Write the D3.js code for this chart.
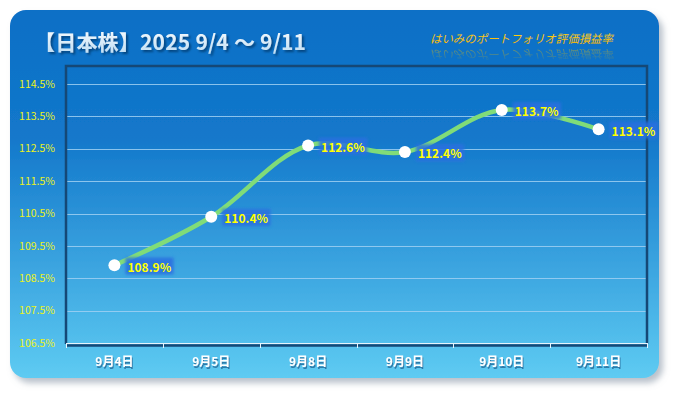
<!DOCTYPE html>
<meta charset="utf-8">
<script src="https://d3js.org/d3.v7.min.js"></script>
<style>
  body { margin: 0; background: #fff; }
  text { font-family: "Noto Sans CJK JP", "Liberation Sans", sans-serif; }
</style>
<div id="chart"></div>
<script>
// data
const dates = ["9月4日", "9月5日", "9月8日", "9月9日", "9月10日", "9月11日"];
const rates = [108.9, 110.4, 112.6, 112.4, 113.7, 113.1];
const yTicks = [106.5, 107.5, 108.5, 109.5, 110.5, 111.5, 112.5, 113.5, 114.5];
const title = "【日本株】2025 9/4 ～ 9/11";
const subtitle = "はいみのポートフォリオ評価損益率";

const W = 675, H = 393;
const plot = {left: 66, right: 647, top: 66, bottom: 344};

const svg = d3.select("#chart").append("svg")
  .attr("width", W).attr("height", H);

const defs = svg.append("defs");

// card gradient
const g1 = defs.append("linearGradient").attr("id", "bg")
  .attr("x1", 0).attr("y1", 0).attr("x2", 0).attr("y2", 1);
g1.append("stop").attr("offset", "0%").attr("stop-color", "#0b6fc6");
g1.append("stop").attr("offset", "35%").attr("stop-color", "#1378cb");
g1.append("stop").attr("offset", "100%").attr("stop-color", "#5ecbf2");

// title gradient
const g2 = defs.append("linearGradient").attr("id", "tg")
  .attr("x1", 0).attr("y1", 0).attr("x2", 0).attr("y2", 1);
g2.append("stop").attr("offset", "0%").attr("stop-color", "#ffffff");
g2.append("stop").attr("offset", "100%").attr("stop-color", "#b9dbf3");

// subtitle gradient
const g3 = defs.append("linearGradient").attr("id", "sg")
  .attr("x1", 0).attr("y1", 0).attr("x2", 0).attr("y2", 1);
g3.append("stop").attr("offset", "0%").attr("stop-color", "#ffd81f");
g3.append("stop").attr("offset", "100%").attr("stop-color", "#f5ae00");

// reflection fade (the copy is flipped, so the strong end is at the bottom)
const g4 = defs.append("linearGradient").attr("id", "rg")
  .attr("x1", 0).attr("y1", 0).attr("x2", 0).attr("y2", 1);
g4.append("stop").attr("offset", "0%").attr("stop-color", "#e8b400").attr("stop-opacity", 0);
g4.append("stop").attr("offset", "100%").attr("stop-color", "#f0c000").attr("stop-opacity", 0.8);

// card shadow
const f1 = defs.append("filter").attr("id", "shadow")
  .attr("x", "-5%").attr("y", "-5%").attr("width", "115%").attr("height", "120%");
f1.append("feGaussianBlur").attr("in", "SourceAlpha").attr("stdDeviation", 3);
f1.append("feOffset").attr("dx", 4).attr("dy", 5).attr("result", "b");
f1.append("feFlood").attr("flood-color", "#8a98a8").attr("flood-opacity", 0.6);
f1.append("feComposite").attr("in2", "b").attr("operator", "in");
const m1 = f1.append("feMerge");
m1.append("feMergeNode");
m1.append("feMergeNode").attr("in", "SourceGraphic");

// text shadow
const f2 = defs.append("filter").attr("id", "tshadow");
f2.append("feGaussianBlur").attr("in", "SourceAlpha").attr("stdDeviation", 1);
f2.append("feOffset").attr("dx", 1.5).attr("dy", 2).attr("result", "b");
f2.append("feFlood").attr("flood-color", "#06396b").attr("flood-opacity", 0.8);
f2.append("feComposite").attr("in2", "b").attr("operator", "in");
const m2 = f2.append("feMerge");
m2.append("feMergeNode");
m2.append("feMergeNode").attr("in", "SourceGraphic");

// small shadow for x labels
const f3 = defs.append("filter").attr("id", "xshadow");
f3.append("feOffset").attr("in", "SourceAlpha").attr("dx", 1).attr("dy", 1.5).attr("result", "b");
f3.append("feFlood").attr("flood-color", "#1d5a8a").attr("flood-opacity", 0.7);
f3.append("feComposite").attr("in2", "b").attr("operator", "in");
const m3 = f3.append("feMerge");
m3.append("feMergeNode");
m3.append("feMergeNode").attr("in", "SourceGraphic");

// glow behind data labels
const f4 = defs.append("filter").attr("id", "glow")
  .attr("x", "-20%").attr("y", "-40%").attr("width", "140%").attr("height", "180%");
f4.append("feGaussianBlur").attr("stdDeviation", 1.5);

// card
svg.append("rect")
  .attr("x", 10).attr("y", 10)
  .attr("width", 649).attr("height", 368)
  .attr("rx", 16)
  .attr("fill", "url(#bg)")
  .attr("filter", "url(#shadow)");

// title
svg.append("text")
  .attr("x", 34).attr("y", 50)
  .attr("font-size", 21).attr("font-weight", "bold")
  .attr("fill", "url(#tg)")
  .attr("filter", "url(#tshadow)")
  .attr("textLength", 272)
  .attr("lengthAdjust", "spacing")
  .text(title);

// subtitle + faded mirror image under it
svg.append("text")
  .attr("x", 430).attr("y", 43)
  .attr("font-size", 11.5).attr("font-style", "italic")
  .attr("fill", "url(#sg)")
  .attr("textLength", 183)
  .attr("lengthAdjust", "spacingAndGlyphs")
  .text(subtitle);
svg.append("text")
  .attr("x", 430).attr("y", 43)
  .attr("font-size", 11.5).attr("font-style", "italic")
  .attr("fill", "url(#rg)")
  .attr("textLength", 183)
  .attr("lengthAdjust", "spacingAndGlyphs")
  .attr("transform", "translate(0,93) scale(1,-1)")
  .attr("opacity", 0.6)
  .text(subtitle);

// scales
const x = d3.scaleBand().domain(dates).range([plot.left, plot.right]);
const y = d3.scaleLinear().domain([106.5, 114.5]).range([343, 84]);

// grid
svg.append("g").selectAll("line")
  .data(yTicks.slice(1))
  .join("line")
    .attr("x1", plot.left).attr("x2", plot.right)
    .attr("y1", d => Math.round(y(d)) + 0.5).attr("y2", d => Math.round(y(d)) + 0.5)
    .attr("stroke", "#9fd0f2").attr("stroke-opacity", 0.85);

// y labels
svg.append("g").selectAll("text")
  .data(yTicks)
  .join("text")
    .attr("x", 55).attr("y", d => y(d))
    .attr("dy", "0.35em")
    .attr("text-anchor", "end")
    .attr("font-family", "Liberation Sans")
    .attr("font-size", 10.5)
    .attr("fill", "#ecf21a")
    .text(d => d.toFixed(1) + "%");

// plot frame (left, top, right)
svg.append("path")
  .attr("d", `M${plot.left},${plot.bottom}V${plot.top}H${plot.right}V${plot.bottom}`)
  .attr("fill", "none")
  .attr("stroke", "#154876")
  .attr("stroke-width", 2.5);

// x axis
const xAxis = svg.append("g");
xAxis.append("line")
  .attr("x1", plot.left).attr("x2", plot.right)
  .attr("y1", 345.5).attr("y2", 345.5)
  .attr("stroke", "#154876").attr("stroke-width", 2.5);
xAxis.append("line")
  .attr("x1", plot.left).attr("x2", plot.right)
  .attr("y1", 343.5).attr("y2", 343.5)
  .attr("stroke", "#e8f4fc").attr("stroke-width", 1.2);
xAxis.selectAll(".tk")
  .data(dates.concat(["end"]))
  .join("line")
    .attr("class", "tk")
    .attr("x1", (d, i) => Math.round(plot.left + i * x.bandwidth()) + 0.5)
    .attr("x2", (d, i) => Math.round(plot.left + i * x.bandwidth()) + 0.5)
    .attr("y1", 343).attr("y2", 348)
    .attr("stroke", "#e8f4fc");
xAxis.selectAll(".lbl")
  .data(dates)
  .join("text")
    .attr("class", "lbl")
    .attr("x", d => x(d) + x.bandwidth() / 2)
    .attr("y", 366)
    .attr("text-anchor", "middle")
    .attr("font-size", 12).attr("font-weight", "bold")
    .attr("fill", "#ffffff")
    .attr("filter", "url(#xshadow)")
    .text(d => d);

// line
const pts = dates.map((d, i) => ({date: d, v: rates[i]}));
const line = d3.line()
  .x(d => x(d.date) + x.bandwidth() / 2)
  .y(d => y(d.v))
  .curve(d3.curveCatmullRom.alpha(0.5));

svg.append("path")
  .datum(pts)
  .attr("d", line)
  .attr("fill", "none")
  .attr("stroke", "#80dc78")
  .attr("stroke-width", 4.5)
  .attr("stroke-linecap", "round");

// points
svg.append("g").selectAll("circle")
  .data(pts)
  .join("circle")
    .attr("cx", d => x(d.date) + x.bandwidth() / 2)
    .attr("cy", d => y(d.v))
    .attr("r", 6)
    .attr("fill", "#ffffff");

// data labels
const lg = svg.append("g").selectAll("g")
  .data(pts)
  .join("g")
    .attr("transform", d => `translate(${x(d.date) + x.bandwidth() / 2 + 13},${y(d.v) + 2})`);
lg.append("rect")
  .attr("fill", "#2a6fe0")
  .attr("opacity", 0.85)
  .attr("filter", "url(#glow)");
lg.append("text")
  .attr("dy", "0.35em")
  .attr("font-family", "Liberation Sans")
  .attr("font-size", 12).attr("font-weight", "bold")
  .attr("fill", "#ffff00")
  .text(d => d.v.toFixed(1) + "%");
lg.each(function() {
  const g = d3.select(this);
  const bb = g.select("text").node().getBBox();
  g.select("rect")
    .attr("x", bb.x - 2).attr("y", bb.y)
    .attr("width", bb.width + 4).attr("height", bb.height);
});
</script>
